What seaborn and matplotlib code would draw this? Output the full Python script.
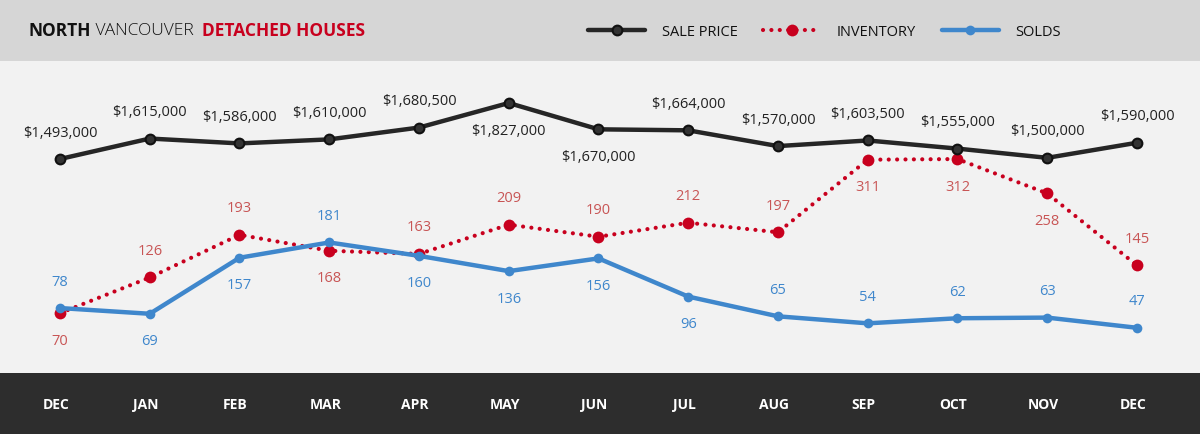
import matplotlib
matplotlib.use("Agg")
import matplotlib.pyplot as plt
import matplotlib.transforms as mtransforms
from matplotlib.lines import Line2D
from matplotlib.patches import Rectangle
import seaborn as sns
import pandas as pd

months = ["DEC", "JAN", "FEB", "MAR", "APR", "MAY", "JUN", "JUL", "AUG", "SEP", "OCT", "NOV", "DEC"]
sale_price = [1493000, 1615000, 1586000, 1610000, 1680500, 1827000, 1670000,
              1664000, 1570000, 1603500, 1555000, 1500000, 1590000]
inventory = [70, 126, 193, 168, 163, 209, 190, 212, 197, 311, 312, 258, 145]
solds = [78, 69, 157, 181, 160, 136, 156, 96, 65, 54, 62, 63, 47]

# label side: +1 above, -1 below
price_side = [1, 1, 1, 1, 1, -1, -1, 1, 1, 1, 1, 1, 1]
inv_side = [-1, 1, 1, -1, 1, 1, 1, 1, 1, -1, -1, -1, 1]
sold_side = [1, -1, -1, 1, -1, -1, -1, -1, 1, 1, 1, 1, 1]

sns.set_theme(style="white")
plt.rcParams["font.family"] = ["Open Sans", "DejaVu Sans"]

HEADER = "#d6d6d6"
PLOTBG = "#f2f2f2"
FOOT = "#2d2d2d"
BLACK = "#262626"
RED = "#c8001e"
RED_TXT = "#c85555"
BLUE = "#3f87cc"

W, H = 1200, 435
fig = plt.figure(figsize=(12, 4.35), dpi=100, facecolor=HEADER)
top_px, bot_px = 62, 374
fig.patches.append(Rectangle((0, 0), 1, (H - bot_px) / H, transform=fig.transFigure,
                             facecolor=FOOT, edgecolor="none", zorder=-5))
ax = fig.add_axes([0, (H - bot_px) / H, 1, (bot_px - top_px) / H])
ax.set_facecolor(PLOTBG)

df = pd.DataFrame({"idx": range(len(months)), "price": sale_price,
                   "inventory": inventory, "solds": solds})

sns.lineplot(data=df, x="idx", y="inventory", ax=ax, color=RED, linewidth=3.0,
             linestyle=(0, (0.01, 2.0)), marker="o", markersize=8.5,
             markeredgewidth=0, zorder=3)
ax.lines[-1].set_dash_capstyle("round")
sns.lineplot(data=df, x="idx", y="solds", ax=ax, color=BLUE, linewidth=3.2,
             marker="o", markersize=7, markeredgewidth=0, zorder=4)

ax2 = ax.twinx()
ax2.patch.set_visible(False)
sns.lineplot(data=df, x="idx", y="price", ax=ax2, color=BLACK, linewidth=3.2,
             marker="o", markersize=7, markerfacecolor="#333333",
             markeredgecolor="#111111", markeredgewidth=1.5, zorder=5)

xl = (-0.6685, 12.702)
ax.set_xlim(*xl)
ax2.set_xlim(*xl)
ax.set_ylim(-24, 466)
ax2.set_ylim(216700, 2077500)

fs_lab = 10.5
off = 27
for i, (v, s) in enumerate(zip(sale_price, price_side)):
    ax2.annotate(f"${v:,.0f}", (i, v), xytext=(0, off * s), textcoords="offset pixels",
                 ha="center", va="center", fontsize=fs_lab, color="#222222")
for i, (v, s) in enumerate(zip(inventory, inv_side)):
    ax.annotate(f"{v}", (i, v), xytext=(0, off * s), textcoords="offset pixels",
                ha="center", va="center", fontsize=fs_lab, color=RED_TXT)
for i, (v, s) in enumerate(zip(solds, sold_side)):
    ax.annotate(f"{v}", (i, v), xytext=(0, off * s), textcoords="offset pixels",
                ha="center", va="center", fontsize=fs_lab, color=BLUE)

for a in (ax, ax2):
    for sp in a.spines.values():
        sp.set_visible(False)
    a.set_ylabel("")
    a.set_yticks([])
ax.set_xlabel("")
ax2.set_xlabel("")
ax.set_xticks(range(len(months)))
ax.set_xticklabels(months, fontsize=10, fontweight="bold", color="white")
ax.tick_params(axis="x", length=0, pad=17)
shift = mtransforms.ScaledTranslation(-4 / 100, 0, fig.dpi_scale_trans)
for lbl in ax.get_xticklabels():
    lbl.set_transform(lbl.get_transform() + shift)

# title
renderer = fig.canvas.get_renderer()
x = 28 / W
ty = 1 - 31 / H
for txt, wt, col in [("NORTH", "bold", "#111111"), (" VANCOUVER  ", "light", "#111111"),
                     ("DETACHED HOUSES", "bold", RED)]:
    t = fig.text(x, ty, txt, fontsize=12.5, fontweight=wt, color=col, ha="left", va="center")
    bb = t.get_window_extent(renderer)
    x += bb.width / W

handles = [
    Line2D([], [], color=BLACK, lw=3.2, marker="o", markersize=7, markerfacecolor="#333333",
           markeredgecolor="#111111", markeredgewidth=1.5),
    Line2D([], [], color=RED, lw=3.0, ls=(0, (0.01, 2.0)), dash_capstyle="round",
           marker="o", markersize=8.5, markeredgewidth=0),
    Line2D([], [], color=BLUE, lw=3.2, marker="o", markersize=7, markeredgewidth=0),
]
leg = fig.legend(handles, ["SALE PRICE", "INVENTORY", "SOLDS"], loc="center right",
                 bbox_to_anchor=(1074 / W, 1 - 33 / H), ncol=3, frameon=False, fontsize=10.5,
                 handlelength=3.9, handletextpad=1.15, columnspacing=1.75, numpoints=1)
for t in leg.get_texts():
    t.set_color("#111111")

fig.savefig("out.png", dpi=100, facecolor=HEADER)
